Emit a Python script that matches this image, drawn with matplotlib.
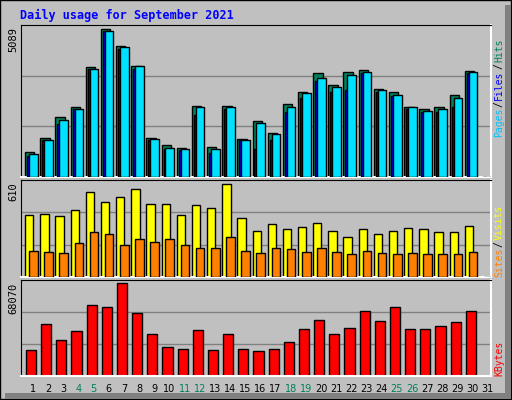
import numpy as np
import matplotlib
matplotlib.use('Agg')
from matplotlib import pyplot as plt
from matplotlib.patches import Rectangle

# values (day 31 has no data)
days = list(range(1, 32))
hits = [850, 1320, 2020, 2330, 3670, 4950, 4380, 3700, 1320, 1080, 980, 2390, 1010, 2390,
        1280, 1890, 1480, 2430, 2830, 3470, 3070, 3500, 3570, 2960, 2860, 2360, 2260, 2330, 2730, 3540, 0]
files = [780, 1250, 1920, 2290, 3600, 4890, 4350, 3700, 1280, 980, 940, 2360, 940, 2360,
         1250, 1820, 1450, 2330, 2800, 3300, 3000, 3400, 3500, 2900, 2760, 2330, 2220, 2290, 2660, 3500, 0]
pages = [710, 1250, 1790, 2290, 3600, 4890, 4280, 3600, 1250, 950, 910, 2090, 810, 2260,
         1250, 940, 1250, 2190, 2660, 3230, 2860, 2900, 3470, 2830, 2700, 2290, 2190, 2160, 2360, 3470, 0]
visits = [387, 394, 381, 419, 532, 469, 501, 551, 456, 462, 387, 450, 437, 583,
          374, 292, 336, 304, 317, 342, 292, 253, 304, 273, 292, 311, 304, 285, 285, 323, 0]
sites = [165, 160, 152, 215, 285, 272, 203, 241, 222, 241, 203, 184, 184, 253,
         165, 152, 184, 177, 158, 184, 158, 146, 165, 152, 146, 152, 146, 146, 146, 158, 0]
kbytes = [18390, 37020, 25550, 31990, 50620, 49180, 65660, 44880, 29850, 20530, 19100, 32710, 18390, 29850,
          19100, 17670, 19100, 24120, 33430, 39880, 29850, 34150, 46320, 39160, 49180, 33430, 33430, 35580, 38450, 46320, 0]
weekend = [4, 5, 11, 12, 18, 19, 25, 26]

max_hits = 5089
max_visits = 610
max_kb = 68070

BG = '#C0C0C0'
GRID = '#808080'
mono = 'DejaVu Sans Mono'

W, H = 512, 400
fig = plt.figure(figsize=(5.12, 4.0), dpi=100, facecolor=BG)

# outer frame and shadow
frame = fig.add_axes([0, 0, 1, 1], zorder=-5)
frame.set_xlim(0, W)
frame.set_ylim(H, 0)
frame.axis('off')
frame.add_patch(Rectangle((0, 0), W - 1, H - 1, fill=False, ec='black', lw=1))
frame.add_patch(Rectangle((W - 7, 5), 6, H - 6, fc=GRID, ec='none'))
frame.add_patch(Rectangle((5, H - 7), W - 6, 6, fc=GRID, ec='none'))

x = np.arange(len(days))


def panel(top, bottom):
    ax = fig.add_axes([21 / W, 1 - bottom / H, (491 - 21) / W, (bottom - top) / H])
    ax.set_facecolor(BG)
    ax.set_xlim(0, 31)
    ax.set_xticks([])
    ax.set_yticks([])
    for s in ['top', 'left']:
        ax.spines[s].set_color('black')
    for s in ['bottom', 'right']:
        ax.spines[s].set_color('white')
        ax.spines[s].set_linewidth(1.5)
    return ax


def bars(ax, vals, off, width, color, z):
    ax.bar(x + off, vals, width, align='edge', color=color, edgecolor='black', linewidth=1, zorder=z)


# hits / files / pages
ax1 = panel(25, 177)
ax1.set_ylim(0, max_hits)
for g in (1 / 3, 2 / 3):
    ax1.axhline(max_hits * g, color=GRID, lw=1, zorder=1)
bars(ax1, hits, 0.27, 0.62, '#00805C', 2)
bars(ax1, pages, 0.40, 0.30, '#0000FF', 3)
bars(ax1, files, 0.53, 0.57, '#00E0FF', 4)

# visits / sites
ax2 = panel(180, 277)
ax2.set_ylim(0, max_visits)
for g in (1 / 3, 2 / 3):
    ax2.axhline(max_visits * g, color=GRID, lw=1, zorder=1)
bars(ax2, visits, 0.27, 0.55, '#FFFF00', 2)
bars(ax2, sites, 0.53, 0.57, '#FF8000', 3)

# kbytes
ax3 = panel(280, 376)
ax3.set_ylim(0, max_kb)
for g in (1 / 3, 2 / 3):
    ax3.axhline(max_kb * g, color=GRID, lw=1, zorder=1)
bars(ax3, kbytes, 0.33, 0.67, '#FF0000', 2)

fig.text(20 / W, 1 - 15 / H, 'Daily usage for September 2021', color='#0000FF',
         family=mono, fontsize=8.5, fontweight='bold', va='center')

for y, lab in [(27, '5089'), (182, '610'), (283, '68070')]:
    fig.text(13 / W, 1 - y / H, lab, rotation=90, family=mono, fontsize=7.5,
             ha='center', va='top')

renderer = fig.canvas.get_renderer()


def side_label(parts, bottom):
    # parts from bottom to top, each (text, color); stack using measured heights
    y = bottom
    for txt, col in parts:
        t = fig.text(499 / W, 1 - y / H, txt, rotation=90, color=col, family=mono,
                     fontsize=7, ha='center', va='bottom')
        y -= t.get_window_extent(renderer).height + 1


side_label([('Pages', '#00C0FF'), ('/', 'black'), ('Files', '#0000FF'),
            ('/', 'black'), ('Hits', '#00805C')], 137)
side_label([('Sites', '#FF8000'), ('/', 'black'), ('Visits', '#FFFF00')], 277)
side_label([('KBytes', '#FF0000')], 376)

for i, d in enumerate(days):
    col = '#00805C' if d in weekend else 'black'
    fig.text((21 + 15.16 * i + 12) / W, 1 - 389 / H, str(d), color=col,
             family='DejaVu Sans', fontsize=7, ha='center', va='center')

fig.savefig('out.png', dpi=100, facecolor=BG)
